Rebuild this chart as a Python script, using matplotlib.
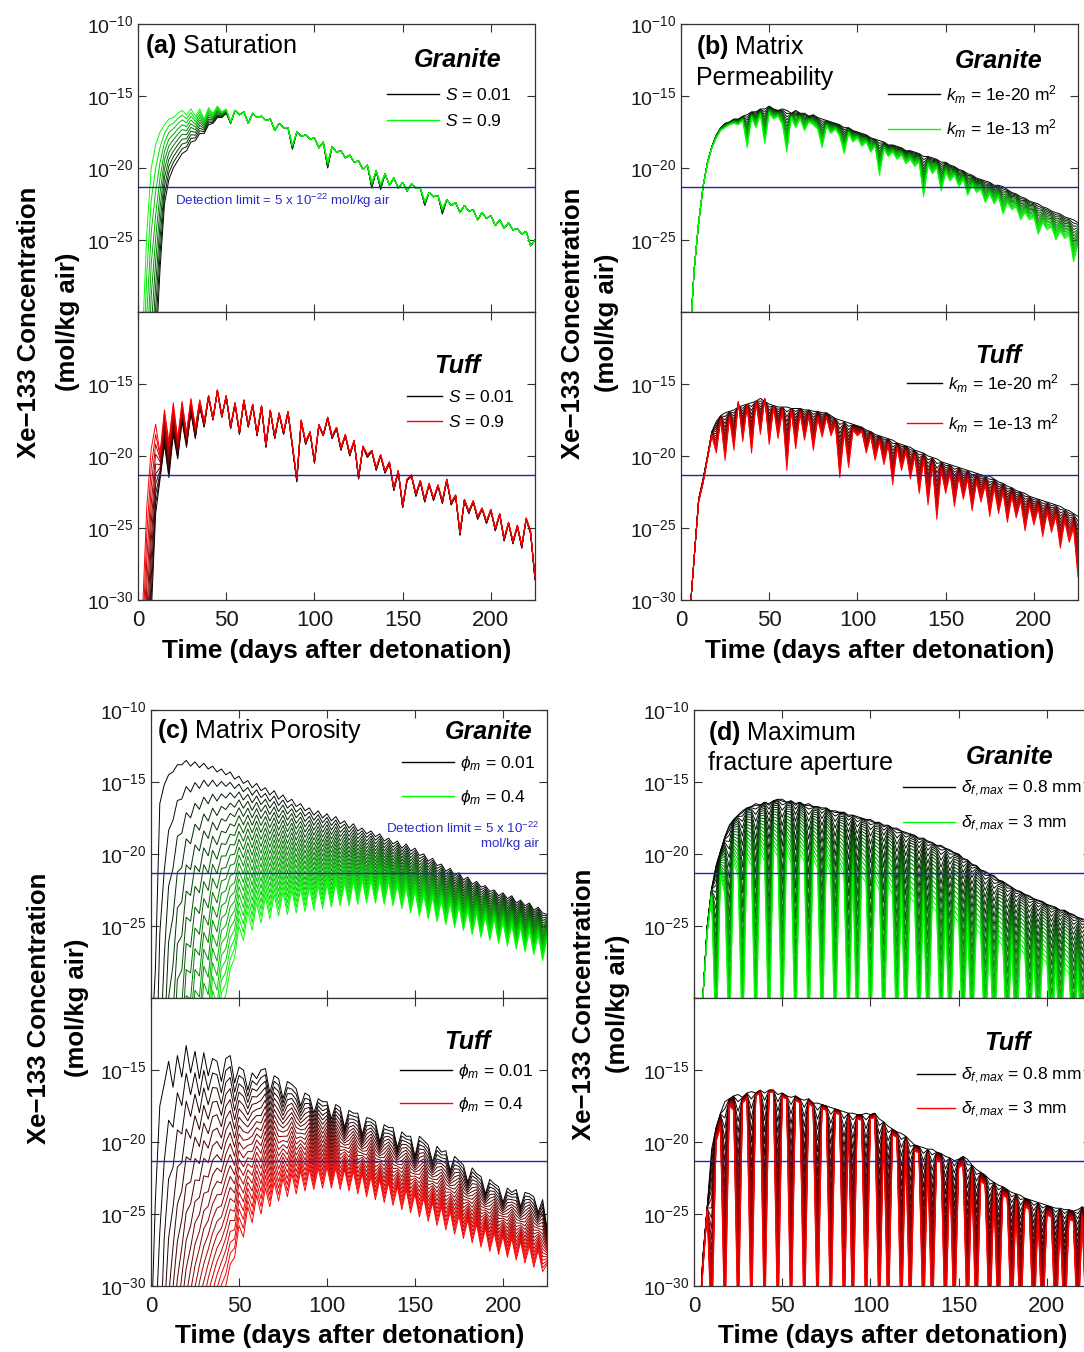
import numpy as np
import matplotlib
matplotlib.use("Agg")
import matplotlib.pyplot as plt
from matplotlib.lines import Line2D
from matplotlib.ticker import NullLocator, FixedLocator, FixedFormatter

plt.rcParams["font.family"] = ["Liberation Sans", "DejaVu Sans"]
plt.rcParams["mathtext.fontset"] = "custom"
plt.rcParams["mathtext.rm"] = "Liberation Sans"
plt.rcParams["mathtext.it"] = "Liberation Sans:italic"
plt.rcParams["mathtext.bf"] = "Liberation Sans:bold"
plt.rcParams["mathtext.fallback"] = "stixsans"

# ---------------------------------------------------------------------------
# Simulated Xe-133 air concentration, log10(mol/kg air), sampled every 2.5 days.
# Values below -30 lie under the plotted range (before breakthrough).
# ---------------------------------------------------------------------------
DAYS = np.arange(0, 225.1, 2.5)

# (a) saturation
a_granite_s001 = [
    -60, -60, -50, -40, -33, -27.0, -22.5, -20.8, -20.0, -19.5,
    -19.0, -18.8, -18.2, -18.1, -17.6, -17.6, -17.0, -16.9, -16.5, -16.5,
    -16.2, -16.9, -16.0, -16.3, -16.1, -16.9, -16.2, -16.5, -16.4, -16.7,
    -16.6, -17.4, -16.9, -17.2, -17.2, -18.7, -17.5, -17.8, -17.7, -18.0,
    -17.9, -18.6, -18.2, -20.0, -18.5, -18.9, -18.8, -19.3, -19.1, -19.6,
    -19.5, -20.1, -19.8, -21.4, -20.2, -21.5, -20.4, -21.2, -20.7, -21.4,
    -21.0, -21.6, -21.1, -21.4, -21.4, -22.6, -21.7, -22.0, -21.9, -23.2,
    -22.2, -22.6, -22.4, -23.1, -22.6, -23.0, -22.9, -23.6, -23.1, -23.5,
    -23.3, -24.0, -23.6, -24.2, -23.8, -24.3, -24.2, -24.6, -24.4, -25.4,
    -25.0]
a_granite_s09 = [
    -34, -32, -24.5, -20.0, -18.4, -17.5, -17.0, -16.6, -16.5, -16.2,
    -16.0, -16.3, -15.9, -16.4, -15.9, -16.6, -15.8, -16.2, -15.7, -16.1,
    -15.9, -16.8, -16.0, -16.3, -16.1, -16.9, -16.2, -16.5, -16.4, -16.7,
    -16.6, -17.4, -16.9, -17.2, -17.2, -18.4, -17.5, -17.8, -17.7, -18.0,
    -17.9, -18.6, -18.2, -19.6, -18.5, -18.9, -18.8, -19.3, -19.1, -19.6,
    -19.5, -20.1, -19.8, -21.0, -20.2, -21.1, -20.4, -21.2, -20.7, -21.4,
    -21.0, -21.6, -21.1, -21.4, -21.4, -22.3, -21.7, -22.0, -21.9, -22.8,
    -22.2, -22.6, -22.4, -23.1, -22.6, -23.0, -22.9, -23.6, -23.1, -23.5,
    -23.3, -24.0, -23.6, -24.2, -23.8, -24.3, -24.2, -24.6, -24.4, -25.4,
    -25.0]
a_tuff_s001 = [
    -60, -50, -40, -31, -24.0, -21.6, -19.2, -21.5, -18.5, -20.2,
    -17.6, -19.4, -17.0, -18.8, -16.6, -18.0, -15.9, -17.5, -15.5, -17.3,
    -15.9, -18.1, -16.4, -18.5, -16.2, -18.0, -16.5, -18.6, -16.6, -19.4,
    -16.9, -18.8, -17.1, -18.5, -17.0, -19.4, -21.8, -17.6, -19.2, -18.4,
    -20.5, -17.9, -18.6, -17.4, -18.8, -18.1, -19.6, -18.6, -20.0, -19.0,
    -21.6, -19.4, -20.1, -19.7, -21.0, -20.0, -21.2, -20.5, -22.4, -21.1,
    -23.6, -21.7, -21.4, -22.8, -21.8, -23.2, -22.0, -23.1, -22.1, -23.3,
    -21.7, -23.4, -22.8, -25.5, -23.1, -24.0, -23.2, -24.4, -23.7, -24.7,
    -23.8, -25.2, -24.1, -25.9, -24.7, -26.1, -24.9, -26.4, -24.4, -25.4,
    -28.6]
a_tuff_s09 = [
    -34, -31, -23.5, -19.5, -17.8, -19.8, -16.8, -19.0, -16.3, -18.8,
    -16.2, -18.4, -16.0, -18.0, -16.1, -17.6, -15.8, -17.4, -15.4, -17.2,
    -15.8, -17.9, -16.3, -18.3, -16.1, -17.8, -16.4, -18.4, -16.5, -19.2,
    -16.8, -18.6, -17.0, -18.3, -16.9, -19.2, -21.5, -17.5, -19.0, -18.3,
    -20.3, -17.8, -18.5, -17.3, -18.6, -18.0, -19.4, -18.5, -19.8, -18.9,
    -21.4, -19.3, -19.9, -19.6, -20.8, -19.9, -21.0, -20.4, -22.2, -21.0,
    -23.4, -21.6, -21.3, -22.6, -21.7, -23.0, -21.9, -22.9, -22.0, -23.1,
    -21.6, -23.2, -22.7, -25.3, -23.0, -23.8, -23.1, -24.2, -23.6, -24.5,
    -23.7, -25.0, -24.0, -25.7, -24.6, -25.9, -24.8, -26.2, -24.3, -25.2,
    -28.4]

# (b) matrix permeability
b_granite_k20 = [
    -34, -34, -32, -27.0, -23.8, -21.3, -19.6, -18.5, -17.7, -17.2,
    -16.9, -16.8, -16.6, -16.6, -16.4, -16.3, -16.1, -16.1, -15.9, -15.9,
    -15.7, -15.9, -16.0, -15.9, -16.0, -16.2, -16.0, -16.2, -16.2, -16.4,
    -16.3, -16.5, -16.6, -16.7, -16.8, -16.9, -17.0, -17.2, -17.2, -17.4,
    -17.5, -17.6, -17.7, -17.9, -18.0, -18.1, -18.2, -18.4, -18.4, -18.5,
    -18.6, -18.8, -18.8, -18.9, -19.0, -19.2, -19.2, -19.3, -19.4, -19.6,
    -19.6, -19.8, -19.9, -20.1, -20.2, -20.4, -20.5, -20.7, -20.8, -20.9,
    -21.0, -21.2, -21.2, -21.3, -21.5, -21.7, -21.8, -22.0, -22.1, -22.3,
    -22.4, -22.5, -22.7, -22.8, -23.0, -23.1, -23.2, -23.4, -23.5, -23.6,
    -23.8]
b_granite_k13 = [
    -34, -34, -32, -27.0, -23.8, -21.3, -19.7, -18.6, -17.9, -17.4,
    -17.2, -17.0, -16.9, -17.0, -16.7, -18.6, -16.5, -17.2, -16.3, -18.3,
    -16.2, -16.6, -16.4, -17.0, -18.9, -16.5, -17.2, -16.6, -17.4, -16.8,
    -17.0, -17.3, -18.6, -17.1, -17.6, -17.3, -17.8, -19.0, -17.6, -18.2,
    -17.9, -18.5, -18.2, -18.9, -18.5, -20.5, -18.7, -19.2, -18.9, -19.4,
    -19.1, -19.7, -19.4, -19.9, -19.6, -22.0, -19.8, -20.4, -20.0, -21.6,
    -20.3, -20.9, -20.5, -21.3, -20.8, -21.9, -21.2, -21.7, -21.5, -22.4,
    -21.8, -22.5, -22.0, -23.2, -22.4, -22.9, -22.7, -23.6, -23.1, -23.6,
    -23.4, -24.6, -23.8, -24.3, -24.1, -25.0, -24.4, -24.9, -24.7, -26.5,
    -25.3]
b_tuff_k20 = [
    -34, -34, -31, -27.0, -23.0, -21.6, -20.0, -18.3, -17.6, -17.2,
    -17.0, -16.9, -16.8, -16.6, -16.5, -16.4, -16.3, -16.2, -16.0, -16.2,
    -16.4, -16.5, -16.6, -16.6, -16.6, -16.7, -16.7, -16.7, -16.8, -16.8,
    -16.9, -16.9, -17.0, -17.0, -17.2, -17.4, -17.5, -17.6, -17.7, -17.8,
    -17.9, -18.0, -18.2, -18.3, -18.5, -18.6, -18.7, -18.8, -18.9, -19.1,
    -19.2, -19.3, -19.4, -19.6, -19.7, -19.8, -20.0, -20.1, -20.2, -20.4,
    -20.5, -20.6, -20.7, -20.8, -20.9, -21.0, -21.1, -21.2, -21.3, -21.4,
    -21.4, -21.6, -21.8, -21.9, -22.1, -22.2, -22.4, -22.5, -22.6, -22.8,
    -22.9, -23.0, -23.1, -23.2, -23.3, -23.4, -23.5, -23.7, -23.8, -24.0,
    -24.2]
b_tuff_k13 = [
    -34, -34, -31, -27.0, -23.2, -21.9, -20.2, -18.6, -19.8, -17.5,
    -20.3, -17.3, -19.6, -16.2, -19.0, -16.5, -19.8, -16.2, -18.5, -16.0,
    -19.2, -16.6, -18.8, -16.8, -21.0, -16.8, -19.5, -17.0, -18.9, -17.2,
    -19.6, -17.4, -18.7, -17.3, -18.6, -17.8, -21.5, -18.3, -20.8, -18.2,
    -18.6, -18.3, -19.8, -18.6, -20.3, -19.0, -20.6, -19.2, -22.0, -19.4,
    -21.0, -19.7, -21.6, -20.0, -22.6, -20.3, -23.4, -20.6, -24.4, -21.0,
    -22.6, -21.2, -23.5, -21.4, -23.0, -21.6, -23.8, -21.8, -23.2, -22.0,
    -24.2, -22.2, -24.0, -22.5, -24.6, -22.8, -24.3, -23.1, -25.2, -23.4,
    -24.8, -23.6, -25.6, -23.9, -25.3, -24.2, -26.4, -24.5, -26.0, -25.0,
    -28.4]

# (c) matrix porosity
c_granite_p001 = [
    -34, -28, -16.5, -15.2, -14.5, -14.3, -13.8, -13.8, -13.5, -13.9,
    -13.6, -14.0, -13.7, -14.1, -13.9, -14.3, -14.1, -14.5, -14.3, -14.8,
    -14.6, -15.1, -14.9, -15.4, -15.1, -15.6, -15.4, -15.9, -15.6, -16.2,
    -15.9, -16.4, -16.2, -16.7, -16.5, -17.0, -16.8, -17.3, -17.0, -17.5,
    -17.2, -17.7, -17.4, -17.9, -17.7, -18.2, -17.9, -18.4, -18.2, -18.6,
    -18.4, -18.8, -18.6, -19.1, -18.9, -19.3, -19.1, -19.6, -19.3, -19.8,
    -19.6, -20.1, -20.0, -20.5, -20.3, -20.8, -20.7, -21.2, -21.0, -21.5,
    -21.3, -21.8, -21.6, -22.1, -21.9, -22.3, -22.2, -22.6, -22.5, -22.9,
    -22.7, -23.1, -22.9, -23.4, -23.2, -23.6, -23.4, -23.9, -23.7, -24.1,
    -24.2]
c_granite_p04 = [
    -200, -220, -188, -129, -88, -78, -61, -59, -48, -48,
    -41, -41.5, -36, -37, -32.4, -33.5, -30.5, -29.8, -28.0, -27.2,
    -25.0, -26.0, -24.0, -25.3, -23.4, -24.8, -23.0, -24.5, -22.8, -24.3,
    -22.6, -24.2, -22.5, -24.1, -22.4, -24.0, -22.3, -23.9, -22.2, -23.8,
    -22.1, -23.7, -22.0, -23.6, -22.0, -23.6, -21.9, -23.5, -21.8, -23.4,
    -21.8, -23.4, -21.8, -23.5, -21.9, -23.6, -22.1, -23.8, -22.3, -24.1,
    -22.6, -24.3, -22.8, -24.5, -23.0, -24.7, -23.2, -24.9, -23.4, -25.1,
    -23.6, -25.3, -23.9, -25.6, -24.1, -25.8, -24.3, -26.0, -24.5, -26.2,
    -24.7, -26.4, -24.9, -26.6, -25.1, -26.8, -25.3, -27.0, -25.6, -27.4,
    -25.9]
c_tuff_p001 = [
    -34, -24, -17.5, -16.0, -14.4, -16.2, -14.0, -15.5, -13.3, -15.2,
    -13.7, -15.6, -13.8, -15.4, -14.2, -14.4, -15.8, -14.2, -14.0, -15.9,
    -14.8, -15.0, -16.4, -15.2, -15.6, -15.0, -14.9, -16.6, -15.4, -15.6,
    -17.0, -15.8, -16.0, -16.3, -17.5, -16.6, -16.8, -18.0, -17.0, -17.2,
    -17.2, -18.4, -17.4, -17.6, -19.0, -17.8, -18.0, -18.0, -19.5, -18.3,
    -18.4, -18.6, -20.0, -18.8, -19.0, -19.0, -20.4, -19.3, -19.6, -19.6,
    -21.0, -19.6, -19.9, -20.2, -21.4, -20.3, -20.7, -20.6, -22.0, -21.0,
    -21.3, -21.6, -22.8, -21.8, -22.2, -22.4, -23.6, -22.6, -22.9, -23.1,
    -24.2, -23.2, -23.5, -23.3, -24.5, -23.5, -23.6, -23.8, -24.9, -24.0,
    -26.0]
c_tuff_p04 = [
    -200, -200, -184, -118, -92, -69, -63, -53, -50, -44,
    -42, -38, -37, -34.5, -33.4, -32, -30.7, -30.0, -28.5, -28.0,
    -25.8, -26.6, -24.5, -25.6, -23.7, -25.0, -23.2, -24.5, -22.8, -24.1,
    -22.5, -23.8, -22.2, -23.6, -22.0, -23.4, -21.9, -23.3, -21.8, -23.2,
    -21.7, -23.2, -21.8, -23.3, -21.9, -23.4, -22.0, -23.6, -22.2, -23.8,
    -22.4, -24.0, -22.6, -24.2, -22.8, -24.4, -23.1, -24.7, -23.3, -24.9,
    -23.6, -25.2, -23.9, -25.5, -24.2, -25.8, -24.5, -26.1, -24.8, -26.4,
    -25.1, -26.7, -25.4, -27.0, -25.7, -27.3, -26.0, -27.6, -26.3, -27.8,
    -26.5, -28.0, -26.7, -28.2, -26.9, -28.4, -27.2, -28.7, -27.5, -29.0,
    -28.5]

# (d) maximum fracture aperture
d_granite_08 = [
    -34, -34, -30, -25.0, -22.4, -20.8, -19.8, -18.8, -18.0, -17.6,
    -17.3, -17.0, -16.8, -16.7, -16.5, -16.6, -16.4, -16.5, -16.3, -16.2,
    -16.2, -16.4, -16.3, -16.5, -16.4, -16.6, -16.5, -16.7, -16.7, -16.8,
    -16.8, -17.0, -17.0, -17.1, -17.1, -17.3, -17.3, -17.4, -17.5, -17.6,
    -17.6, -17.8, -17.8, -18.0, -18.0, -18.2, -18.2, -18.4, -18.5, -18.6,
    -18.7, -18.9, -18.9, -19.1, -19.2, -19.4, -19.4, -19.6, -19.7, -19.9,
    -20.0, -20.3, -20.4, -20.7, -20.8, -21.1, -21.2, -21.4, -21.5, -21.8,
    -21.9, -22.1, -22.3, -22.5, -22.6, -22.8, -22.9, -23.1, -23.2, -23.3,
    -23.5, -23.6, -23.7, -23.9, -23.9, -24.1, -24.2, -24.4, -24.5, -24.6,
    -24.8]
d_granite_3 = [
    -34, -34, -30, -25.5, -23.0, -34, -21.5, -22.8, -34, -20.6,
    -21.5, -34, -20.2, -20.8, -34, -19.8, -20.5, -34, -19.6, -20.2,
    -34, -19.8, -20.6, -34, -20.0, -20.5, -34, -20.3, -21.0, -34,
    -20.6, -21.4, -34, -20.9, -21.6, -34, -21.2, -34, -21.5, -22.0,
    -34, -21.8, -22.5, -34, -22.2, -22.8, -34, -22.6, -34, -23.0,
    -23.4, -34, -23.3, -34, -23.6, -24.0, -34, -24.0, -34, -24.3,
    -24.8, -34, -24.8, -34, -25.2, -25.6, -34, -25.6, -34, -26.0,
    -26.4, -34, -26.3, -34, -26.6, -27.0, -34, -26.9, -34, -27.2,
    -27.6, -34, -27.6, -34, -27.9, -28.3, -34, -28.2, -34, -28.6,
    -34]
d_tuff_08 = [
    -34, -34, -28, -24.5, -20.5, -19.0, -18.0, -17.2, -17.0, -16.8,
    -16.7, -16.9, -16.6, -16.5, -16.6, -16.4, -16.6, -16.4, -16.4, -16.7,
    -16.6, -16.8, -16.9, -16.8, -17.0, -17.1, -17.0, -17.3, -17.3, -17.4,
    -17.5, -17.6, -17.7, -17.8, -17.9, -18.0, -18.0, -18.1, -18.1, -18.0,
    -18.1, -18.0, -18.4, -18.6, -18.9, -19.1, -19.3, -19.4, -19.6, -19.9,
    -20.2, -20.3, -20.4, -20.5, -20.5, -20.7, -20.8, -21.0, -21.1, -21.3,
    -21.2, -21.0, -21.2, -21.6, -21.9, -22.1, -22.3, -22.6, -22.8, -23.0,
    -23.1, -23.3, -23.5, -23.6, -23.7, -23.9, -24.0, -24.1, -24.2, -24.3,
    -24.4, -24.5, -24.6, -24.6, -24.7, -24.7, -24.8, -24.7, -24.5, -24.6,
    -24.8]
d_tuff_3 = [
    -34, -34, -29, -24.8, -34, -20.0, -19.0, -34, -17.5, -17.8,
    -34, -17.3, -17.0, -34, -16.8, -16.6, -34, -16.6, -16.5, -34,
    -16.9, -17.0, -34, -17.1, -17.3, -34, -17.3, -17.6, -34, -17.7,
    -17.8, -34, -18.0, -18.1, -34, -18.3, -34, -18.4, -18.5, -34,
    -18.4, -18.3, -34, -19.0, -34, -19.5, -19.7, -34, -20.0, -34,
    -20.6, -20.8, -34, -21.0, -34, -21.2, -21.4, -34, -21.6, -34,
    -21.8, -21.6, -34, -22.3, -34, -22.7, -23.0, -34, -23.4, -34,
    -23.7, -23.9, -34, -24.2, -34, -24.5, -24.7, -34, -24.9, -34,
    -25.1, -25.2, -34, -25.3, -34, -25.4, -25.5, -34, -25.3, -34,
    -25.6]

DETECTION_LIMIT = 5e-22
X_TICKS = [0, 50, 100, 150, 200]
X_TICK_LABELS = ["0", "50", "100", "150", "200"]
Y_TICKS = [1e-30, 1e-25, 1e-20, 1e-15, 1e-10]
Y_TICK_LABELS = [r"$10^{-30}$", r"$10^{-25}$", r"$10^{-20}$", r"$10^{-15}$", r"$10^{-10}$"]

GREEN = np.array([0.0, 1.0, 0.0])
RED = np.array([1.0, 0.0, 0.0])

# ---------------------------------------------------------------------------
W, H = 1084, 1352
fig = plt.figure(figsize=(W / 100, H / 100), dpi=100)


def px_rect(l, r, t, b):
    return [l / W, 1 - b / H, (r - l) / W, (b - t) / H]


def ftext(x, y, s, **kw):
    return fig.text(x / W, 1 - y / H, s, **kw)


def draw_family(ax, low_param, high_param, end_color, n_runs, gamma):
    """Parameter sweep: strokes shaded from black (first run) to end_color (last run)."""
    lo = np.asarray(low_param, float)
    hi = np.asarray(high_param, float)
    for k in range(n_runs):
        w = (k / (n_runs - 1)) ** gamma
        logc = (1 - w) * lo + w * hi
        ax.plot(DAYS, 10.0 ** logc, color=tuple(end_color * w), lw=0.7)


def style_axes(ax, is_top):
    ax.set_yscale("log")
    ax.set_xlim(0, 225)
    ax.set_ylim(1e-30, 1e-10)
    ax.yaxis.set_major_locator(FixedLocator(Y_TICKS))
    ax.yaxis.set_minor_locator(NullLocator())
    labels = list(Y_TICK_LABELS)
    if is_top:
        labels[0] = ""
    else:
        labels[-1] = ""
    ax.yaxis.set_major_formatter(FixedFormatter(labels))
    ax.xaxis.set_major_locator(FixedLocator(X_TICKS))
    ax.xaxis.set_minor_locator(NullLocator())
    if is_top:
        ax.set_xticklabels([])
    else:
        ax.set_xticklabels(X_TICK_LABELS)
    ax.tick_params(axis="both", which="both", direction="in", top=True, right=True,
                   length=6, width=0.8, color="#333333")
    ax.tick_params(axis="y", labelsize=14, pad=3, labelcolor="#1a1a1a")
    ax.tick_params(axis="x", labelsize=16, pad=7, labelcolor="#1a1a1a")
    for sp in ax.spines.values():
        sp.set_color("#333333")
        sp.set_linewidth(0.9)
    ax.axhline(DETECTION_LIMIT, color="#2323a8", lw=1.0, zorder=5)


panels = [
    dict(l=138, r=535, t=24, m=312, b=600,
         series=(a_granite_s001, a_granite_s09, a_tuff_s001, a_tuff_s09),
         n=10, gamma=(1.0, 1.0),
         labels=(r"$S$ = 0.01", r"$S$ = 0.9"),
         title=[(145, 46, r"$\mathbf{(a)}$ Saturation")],
         granite=(458, 60), tuff=(457, 366),
         leg_g=(387, 87, 0.6, 3.0), leg_t=(407, 389, 0.5, 2.0),
         ylab=(29, 68, 322), xlab=(337, 651)),
    dict(l=681, r=1078, t=24, m=312, b=600,
         series=(b_granite_k20, b_granite_k13, b_tuff_k20, b_tuff_k13),
         n=14, gamma=(1.0, 1.0),
         labels=(r"$k_m$ = 1e-20 m$^2$", r"$k_m$ = 1e-13 m$^2$"),
         title=[(696, 47, r"$\mathbf{(b)}$ Matrix"), (696, 78, "Permeability")],
         granite=(999, 61), tuff=(998, 356),
         leg_g=(888, 83, 0.7, 3.0), leg_t=(907, 372, 1.0, 2.0),
         ylab=(573, 607, 323), xlab=(880, 651)),
    dict(l=151, r=547, t=710, m=998, b=1286,
         series=(c_granite_p001, c_granite_p04, c_tuff_p001, c_tuff_p04),
         n=20, gamma=(1.0, 1.0),
         labels=(r"$\phi_m$ = 0.01", r"$\phi_m$ = 0.4"),
         title=[(157, 731, r"$\mathbf{(c)}$ Matrix Porosity")],
         granite=(489, 732), tuff=(467, 1042),
         leg_g=(402, 754, 0.85, 3.0), leg_t=(400, 1062, 0.8, 3.0),
         ylab=(39, 77, 1008), xlab=(350, 1336)),
    dict(l=694, r=1091, t=710, m=998, b=1286,
         series=(d_granite_08, d_granite_3, d_tuff_08, d_tuff_3),
         n=20, gamma=(1.7, 1.2),
         labels=(r"$\delta_{f,max}$ = 0.8 mm", r"$\delta_{f,max}$ = 3 mm"),
         title=[(708, 733, r"$\mathbf{(d)}$ Maximum"), (708, 763, "fracture aperture")],
         granite=(1010, 757), tuff=(1007, 1043),
         leg_g=(903, 779, 0.85, 3.0), leg_t=(917, 1066, 0.8, 2.2),
         ylab=(584, 618, 1004), xlab=(893, 1336)),
]

for p in panels:
    ax_g = fig.add_axes(px_rect(p["l"], p["r"], p["t"], p["m"]))
    ax_t = fig.add_axes(px_rect(p["l"], p["r"], p["m"], p["b"]))
    g_lo, g_hi, t_lo, t_hi = p["series"]
    draw_family(ax_g, g_lo, g_hi, GREEN, p["n"], p["gamma"][0])
    draw_family(ax_t, t_lo, t_hi, RED, p["n"], p["gamma"][1])
    style_axes(ax_g, True)
    style_axes(ax_t, False)

    for ax, end, key, top in ((ax_g, GREEN, "leg_g", p["t"]), (ax_t, RED, "leg_t", p["m"])):
        lx, ly, spacing, hlen = p[key]
        handles = [Line2D([], [], color="black", lw=1.0),
                   Line2D([], [], color=tuple(end), lw=1.0)]
        ax.legend(handles, p["labels"], loc="upper left",
                  bbox_to_anchor=((lx - p["l"]) / (p["r"] - p["l"]),
                                  1 - (ly - top) / (p["m"] - p["t"])),
                  frameon=False, fontsize=12.5, handlelength=hlen, handletextpad=0.35,
                  labelspacing=spacing, borderpad=0, borderaxespad=0)

    for (x, y, s) in p["title"]:
        ftext(x, y, s, fontsize=18, ha="left", va="center")
    ftext(*p["granite"], "Granite", fontsize=18, fontweight="bold", fontstyle="italic",
          ha="center", va="center")
    ftext(*p["tuff"], "Tuff", fontsize=18, fontweight="bold", fontstyle="italic",
          ha="center", va="center")
    x1, x2, yc = p["ylab"]
    ftext(x1, yc, "Xe\u2212133 Concentration", rotation=90, fontsize=18.5,
          fontweight="bold", ha="center", va="center")
    ftext(x2, yc, "(mol/kg air)", rotation=90, fontsize=18.5,
          fontweight="bold", ha="center", va="center")
    ftext(*p["xlab"], "Time (days after detonation)", fontsize=18.8, fontweight="bold",
          ha="center", va="center")

# detection limit annotations
ftext(175, 201, r"Detection limit = 5 x 10$^{-22}$ mol/kg air", fontsize=9.6,
      color="#2b2bc8", ha="left", va="center")
ftext(539, 828, r"Detection limit = 5 x 10$^{-22}$", fontsize=9.6,
      color="#2b2bc8", ha="right", va="center")
ftext(539, 844, "mol/kg air", fontsize=9.6, color="#2b2bc8", ha="right", va="center")

fig.savefig("out.png", dpi=100)
